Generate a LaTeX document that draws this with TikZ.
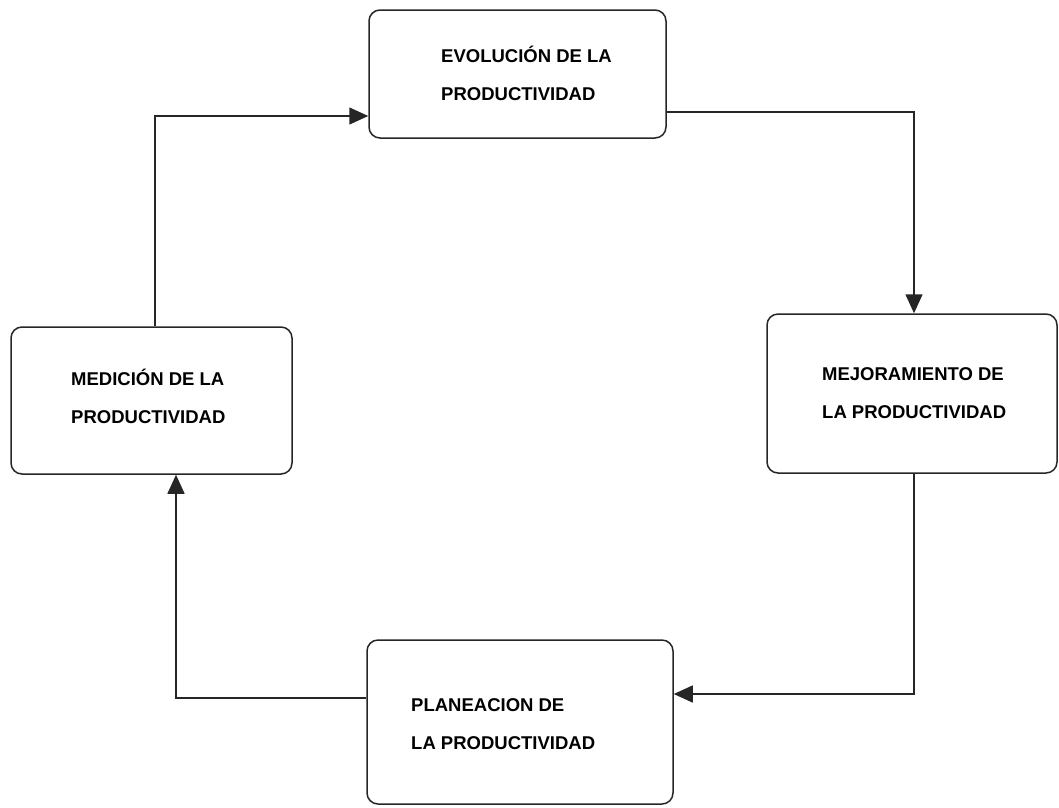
\documentclass[tikz,border=0pt]{standalone}
\usepackage{fontspec}
\setmainfont{Liberation Sans}
\usetikzlibrary{arrows.meta}
\begin{document}
\begin{tikzpicture}[x=1pt,y=-1pt,
  stagebox/.style={draw=black!85,line width=1.5pt,rounded corners=11pt,inner sep=0pt},
  stagetext/.style={anchor=base west,inner sep=0pt,align=left,
    font=\fontsize{18.5pt}{38pt}\selectfont\bfseries},
  flow/.style={draw=black!85,line width=1.5pt,-{Triangle[length=19pt,width=17pt]}}]
\useasboundingbox (0,0) rectangle (1059,807);

% the four stages of the cycle
\node[stagebox,minimum width=297pt,minimum height=128pt] (evo) at (517.5,74) {};
\node[stagebox,minimum width=290pt,minimum height=159pt] (mej) at (912,393.5) {};
\node[stagebox,minimum width=281pt,minimum height=147pt] (med) at (151.5,400.5) {};
\node[stagebox,minimum width=306pt,minimum height=164pt] (pla) at (520,722) {};

% labels, placed by the baseline of their last line
\node[stagetext] (evoT) at (441,100) {EVOLUCIÓN DE LA\\PRODUCTIVIDAD};
\node[stagetext] (mejT) at (822,418) {MEJORAMIENTO DE\\LA PRODUCTIVIDAD};
\node[stagetext] (medT) at (71,423) {MEDICIÓN DE LA\\PRODUCTIVIDAD};
\node[stagetext] (plaT) at (411,749) {PLANEACION DE\\LA PRODUCTIVIDAD};

% bends of the connectors
\coordinate (b1) at (155,116);
\coordinate (b2) at (914,112);
\coordinate (b3) at (914,694);
\coordinate (b4) at (176,698);

\draw[flow] (med.north -| b1) -- (b1) -- (evo.west |- b1);
\draw[flow] (evo.east |- b2) -- (b2) -- (mej.north -| b2);
\draw[flow] (mej.south -| b3) -- (b3) -- (pla.east |- b3);
\draw[flow] (pla.west |- b4) -- (b4) -- (med.south -| b4);
\end{tikzpicture}
\end{document}
